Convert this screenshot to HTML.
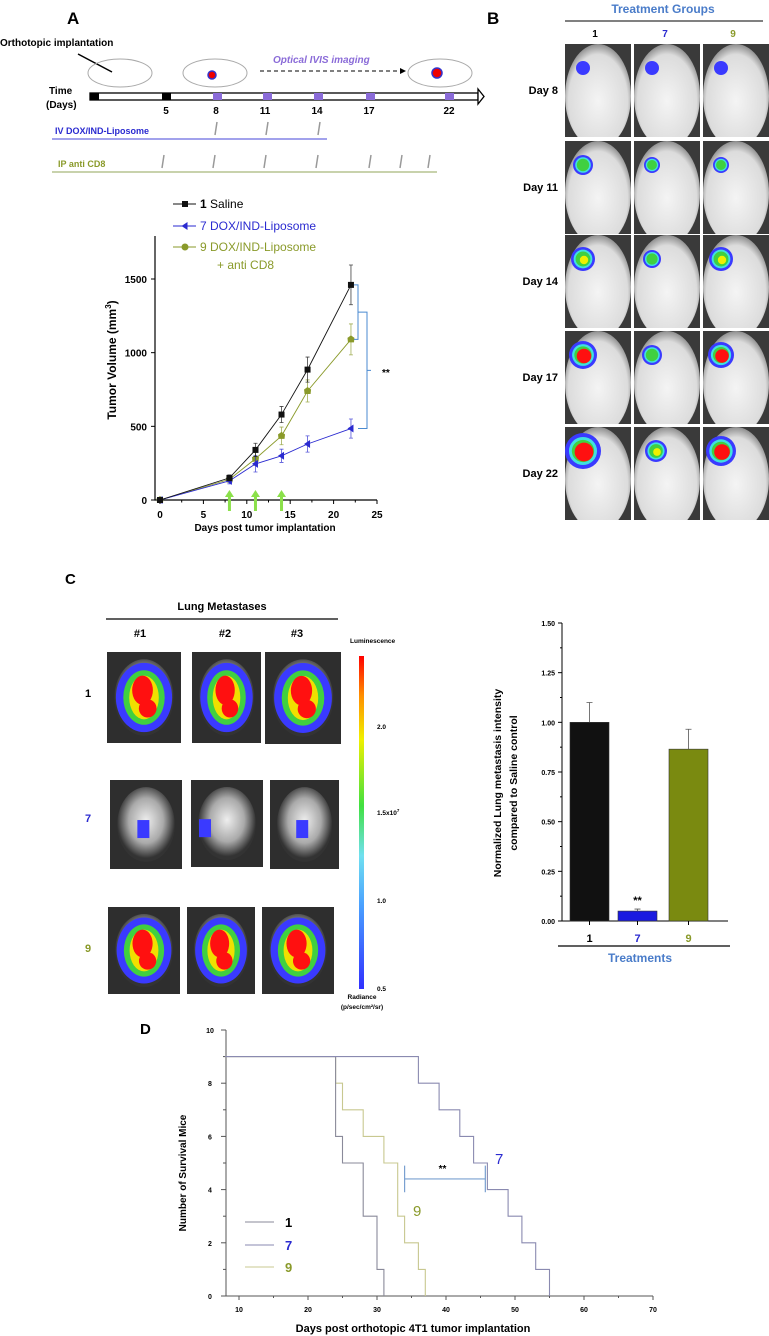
<!DOCTYPE html>
<html><head><meta charset="utf-8"><style>
body{margin:0;background:#fff}
svg{display:block;font-family:"Liberation Sans",sans-serif}
</style></head><body>
<svg id="s" width="769" height="1336" viewBox="0 0 769 1336" xmlns="http://www.w3.org/2000/svg">
<defs>
<radialGradient id="mouse" cx="50%" cy="55%" r="60%"><stop offset="0" stop-color="#f4f4f4"/><stop offset="0.75" stop-color="#dcdcdc"/><stop offset="1" stop-color="#666"/></radialGradient>
<radialGradient id="lunghaze" cx="50%" cy="45%" r="50%"><stop offset="0" stop-color="#eee"/><stop offset="0.6" stop-color="#aaa"/><stop offset="1" stop-color="#333"/></radialGradient>
<linearGradient id="cbar" x1="0" y1="1" x2="0" y2="0"><stop offset="0" stop-color="#3030ff"/><stop offset="0.25" stop-color="#4aa0ff"/><stop offset="0.4" stop-color="#70e0f0"/><stop offset="0.55" stop-color="#40e040"/><stop offset="0.75" stop-color="#f0f000"/><stop offset="0.88" stop-color="#ff9000"/><stop offset="1" stop-color="#ff0000"/></linearGradient>
</defs>

<text x="67" y="24" font-size="17" font-weight="bold">A</text>
<text x="0" y="46" font-size="10" font-weight="bold">Orthotopic implantation</text>
<line x1="78" y1="54" x2="112" y2="72" stroke="#000" stroke-width="1.5"/>
<g fill="none" stroke="#aaa" stroke-width="1">
<ellipse cx="120" cy="73" rx="32" ry="14"/><ellipse cx="215" cy="73" rx="32" ry="14"/><ellipse cx="440" cy="73" rx="32" ry="14"/>
</g>
<circle cx="212" cy="75" r="4" fill="#e00" stroke="#33c" stroke-width="1.5"/>
<circle cx="437" cy="73" r="5" fill="#e00" stroke="#33c" stroke-width="1.5"/>
<text x="273" y="63" font-size="10" font-weight="bold" font-style="italic" fill="#8a6bd8">Optical IVIS imaging</text>
<line x1="260" y1="71" x2="400" y2="71" stroke="#000" stroke-dasharray="4,3"/>
<polygon points="400,68 406,71 400,74" fill="#000"/>
<text x="49" y="94" font-size="10" font-weight="bold">Time</text>
<text x="46" y="108" font-size="10" font-weight="bold">(Days)</text>
<rect x="90" y="93" width="388" height="7" fill="#fff" stroke="#000" stroke-width="1.3"/>
<polygon points="478,89 484,96.5 478,104" fill="#fff" stroke="#000" stroke-width="1.3"/>
<g id="tl"></g>
<text x="55" y="134" font-size="9" font-weight="bold" fill="#2a2ad0">IV DOX/IND-Liposome</text>
<line x1="52" y1="139" x2="327" y2="139" stroke="#6a6ae0" stroke-width="1.3"/>
<text x="58" y="167" font-size="9" font-weight="bold" fill="#8a9a2a">IP anti CD8</text>
<line x1="52" y1="172" x2="437" y2="172" stroke="#a8b87a" stroke-width="1.3"/>
<g id="syr"></g>

<g id="chartA"></g>

<text x="487" y="24" font-size="17" font-weight="bold">B</text>
<text x="663" y="13" font-size="12" font-weight="bold" fill="#4a7cc9" text-anchor="middle">Treatment Groups</text>
<line x1="565" y1="21" x2="763" y2="21" stroke="#000"/>
<text x="595" y="37" font-size="10" font-weight="bold" text-anchor="middle">1</text>
<text x="665" y="37" font-size="10" font-weight="bold" fill="#2a2ad0" text-anchor="middle">7</text>
<text x="733" y="37" font-size="10" font-weight="bold" fill="#8a9a2a" text-anchor="middle">9</text>
<g id="mice"></g>

<text x="65" y="584" font-size="15" font-weight="bold">C</text>
<text x="222" y="610" font-size="11" font-weight="bold" text-anchor="middle">Lung Metastases</text>
<line x1="106" y1="619" x2="338" y2="619" stroke="#000" stroke-width="1.2"/>
<text x="140" y="637" font-size="11" font-weight="bold" text-anchor="middle">#1</text>
<text x="225" y="637" font-size="11" font-weight="bold" text-anchor="middle">#2</text>
<text x="297" y="637" font-size="11" font-weight="bold" text-anchor="middle">#3</text>
<text x="88" y="697" font-size="11" font-weight="bold" text-anchor="middle">1</text>
<text x="88" y="822" font-size="11" font-weight="bold" fill="#2a2ad0" text-anchor="middle">7</text>
<text x="88" y="952" font-size="11" font-weight="bold" fill="#8a9a2a" text-anchor="middle">9</text>
<g id="lungs"></g>
<text x="350" y="643" font-size="6.5" font-weight="bold">Luminescence</text>
<rect x="359" y="656" width="5" height="333" fill="url(#cbar)"/>
<g font-size="6.5" font-weight="bold">
<text x="377" y="729">2.0</text><text x="377" y="815">1.5x10<tspan font-size="4.5" dy="-3">7</tspan></text><text x="377" y="903">1.0</text><text x="377" y="991">0.5</text>
<text x="362" y="999" text-anchor="middle">Radiance</text><text x="362" y="1009" text-anchor="middle">(p/sec/cm²/sr)</text>
</g>
<g id="chartC"></g>

<text x="140" y="1034" font-size="15" font-weight="bold">D</text>
<g id="chartD"></g>
</svg>
<script>
const tumorDays = [0, 8, 11, 14, 17, 22];
const salineVals = [0, 150, 340, 580, 885, 1460];
const salineErr = [0, 20, 45, 55, 85, 135];
const doxVals = [0, 130, 245, 300, 380, 485];
const doxErr = [0, 20, 55, 45, 55, 65];
const cd8Vals = [0, 140, 280, 435, 740, 1090];
const cd8Err = [0, 20, 45, 60, 75, 105];
const tumorYTicks = [0, 500, 1000, 1500];
const tumorXTicks = [0, 5, 10, 15, 20, 25];
const arrowDays = [8, 11, 14];

const barCats = ['1', '7', '9'];
const barVals = [1.0, 0.05, 0.865];
const barErr = [0.1, 0.01, 0.1];
const barTicks = [0, 0.25, 0.5, 0.75, 1.0, 1.25, 1.5];

const surv1 = [[8, 9], [24, 6], [25, 5], [28, 3], [30, 1], [31, 0]];
const surv7 = [[8, 9], [36, 8], [39, 7], [42, 6], [44, 5], [46, 4], [49, 3], [51, 2], [53, 1], [55, 0]];
const surv9 = [[8, 9], [24, 8], [25, 7], [28, 6], [31, 5], [33, 3], [34, 2], [36, 1], [37, 0]];
const survXTicks = [10, 20, 30, 40, 50, 60, 70];
const survYTicks = [0, 2, 4, 6, 8, 10];

const NS = 'http://www.w3.org/2000/svg';
function mk(tag, attrs, parent, txt) {
  const e = document.createElementNS(NS, tag);
  for (const k in attrs) e.setAttribute(k, attrs[k]);
  if (txt !== undefined) e.textContent = txt;
  parent.appendChild(e);
  return e;
}

const tl = document.getElementById('tl');
[[90, '#000'], [162, '#000'], [213, '#8a6bd8'], [263, '#8a6bd8'], [314, '#8a6bd8'], [366, '#8a6bd8'], [445, '#8a6bd8']].forEach(p => {
  const r = mk('rect', {x: p[0], y: 93, width: 9, height: 7, fill: p[1]}, tl);
  
  
});
[[166, '5'], [216, '8'], [265, '11'], [317, '14'], [369, '17'], [449, '22']].forEach(p => {
  const t = mk('text', {x: p[0], y: 114, 'font-size': 10, 'font-weight': 'bold', 'text-anchor': 'middle'}, tl, p[1]);
  
  
});
const syr = document.getElementById('syr');
[[215, 135], [266, 135], [318, 135], [162, 168], [213, 168], [264, 168], [316, 168], [369, 168], [400, 168], [428, 168]].forEach(p => {
  const l = mk('line', {x1: p[0], y1: p[1], x2: p[0] + 2, y2: p[1] - 13, stroke: '#999', 'stroke-width': 1.5}, syr);
  
  
});

const gA = document.getElementById('chartA');
const xA = d => 160 + d * 8.68;
const yA = v => 500 - v * 221 / 1500;
const axA = mk('path', {d: `M155,236 V500 H377`, fill: 'none', stroke: '#000', 'stroke-width': 1.2}, gA);


tumorYTicks.forEach(v => {
  mk('line', {x1: 151, x2: 155, y1: yA(v), y2: yA(v), stroke: '#000'}, gA);
  const t = mk('text', {x: 147, y: yA(v) + 4, 'font-size': 10, 'font-weight': 'bold', 'text-anchor': 'end'}, gA, v);
  
  
});
for (let d = 0; d <= 25; d += 2.5) mk('line', {x1: xA(d), x2: xA(d), y1: 500, y2: d % 5 === 0 ? 504 : 502.5, stroke: '#000'}, gA);
tumorXTicks.forEach(d => {
  const t = mk('text', {x: xA(d), y: 518, 'font-size': 10, 'font-weight': 'bold', 'text-anchor': 'middle'}, gA, d);
  
  
});
const xtA = mk('text', {x: 265, y: 531, 'font-size': 10, 'font-weight': 'bold', 'text-anchor': 'middle'}, gA, 'Days post tumor implantation');


const ytA = mk('text', {x: 0, y: 0, 'font-size': 12, 'font-weight': 'bold', 'text-anchor': 'middle', transform: 'translate(116,360) rotate(-90)'}, gA);


ytA.innerHTML = 'Tumor Volume (mm<tspan font-size="8" dy="-5">3</tspan><tspan dy="5">)</tspan>';
arrowDays.forEach(d => {
  const a = mk('path', {d: `M${xA(d) - 1.5},511 V497 h-3 l4.5,-7 l4.5,7 h-3 V511 Z`, fill: '#8be04a'}, gA);
  
  
});
function seriesA(vals, errs, color, marker, name) {
  const g = mk('g', {}, gA);
  
  
  mk('polyline', {points: tumorDays.map((d, i) => xA(d) + ',' + yA(vals[i])).join(' '), fill: 'none', stroke: color, 'stroke-width': 0.9}, g);
  tumorDays.forEach((d, i) => {
    const x = xA(d), y = yA(vals[i]);
    if (errs[i]) {
      mk('path', {d: `M${x},${yA(vals[i] - errs[i])} V${yA(vals[i] + errs[i])} M${x - 2},${yA(vals[i] - errs[i])} h4 M${x - 2},${yA(vals[i] + errs[i])} h4`, stroke: color, 'stroke-width': 0.8, fill: 'none', opacity: 0.8}, g);
    }
    let m;
    if (marker === 'sq') m = mk('rect', {x: x - 3, y: y - 3, width: 6, height: 6, fill: color}, g);
    else if (marker === 'tri') m = mk('polygon', {points: `${x - 3.5},${y} ${x + 2.5},${y - 4} ${x + 2.5},${y + 4}`, fill: color}, g);
    else m = mk('polygon', {points: `${x},${y - 4} ${x + 3.5},${y - 1.5} ${x + 3},${y + 3} ${x - 3},${y + 3} ${x - 3.5},${y - 1.5}`, fill: color}, g);
    
    
  });
}
seriesA(cd8Vals, cd8Err, '#8a9a2a', 'pent', 'series-9');
seriesA(doxVals, doxErr, '#2a2ad0', 'tri', 'series-7');
seriesA(salineVals, salineErr, '#111', 'sq', 'series-1');
const legA = mk('g', {'font-size': 12}, gA);


[[204, '#111', 'sq'], [226, '#2a2ad0', 'tri'], [247, '#8a9a2a', 'pent']].forEach(p => {
  mk('line', {x1: 173, x2: 196, y1: p[0], y2: p[0], stroke: p[1]}, legA);
  const x = 185, y = p[0];
  if (p[2] === 'sq') mk('rect', {x: x - 3, y: y - 3, width: 6, height: 6, fill: p[1]}, legA);
  else if (p[2] === 'tri') mk('polygon', {points: `${x - 3.5},${y} ${x + 2.5},${y - 4} ${x + 2.5},${y + 4}`, fill: p[1]}, legA);
  else mk('circle', {cx: x, cy: y, r: 3.5, fill: p[1]}, legA);
});
const l1 = mk('text', {x: 200, y: 208}, legA); l1.innerHTML = '<tspan font-weight="bold">1</tspan> Saline';
 
const l7 = mk('text', {x: 200, y: 230, fill: '#2a2ad0'}, legA, '7 DOX/IND-Liposome');
 
const l9 = mk('text', {x: 200, y: 251, fill: '#8a9a2a'}, legA, '9 DOX/IND-Liposome');
 
const l9b = mk('text', {x: 217, y: 269, fill: '#8a9a2a'}, legA, '+ anti CD8');
 
const br = mk('path', {d: `M354,${yA(1460)} h4 V${yA(1090)} h-4 M358,${(yA(1460) + yA(1090)) / 2} h9 V${yA(485)} h-9 M367,${(yA(1275) + yA(485)) / 2} h4`, fill: 'none', stroke: '#4a8ad0', 'stroke-width': 1}, gA);
 
const st = mk('text', {x: 382, y: 376, 'font-size': 10, 'font-weight': 'bold'}, gA, '**');
 

const mice = document.getElementById('mice');
const colX = [565, 634, 703];
const rowY = [44, 141, 235, 331, 427];
const dayLabels = ['Day 8', 'Day 11', 'Day 14', 'Day 17', 'Day 22'];
const blobR = [[7, 7, 7], [10, 8, 8], [12, 9, 12], [14, 10, 13], [18, 11, 15]];
const blobL = [[1, 1, 1], [2, 2, 2], [3, 2, 3], [4, 2, 4], [4, 3, 4]];
const lvlCol = ['#3a3aff', '#40e0e0', '#40d040', '#f0f000', '#ff1010'];
rowY.forEach((y, r) => {
  const t = mk('text', {x: 558, y: y + 50, 'font-size': 11, 'font-weight': 'bold', 'text-anchor': 'end'}, mice, dayLabels[r]);
  
  
  colX.forEach((x, c) => {
    const g = mk('svg', {x: x, y: y, width: 66, height: 93, overflow: 'hidden'}, mice);
    
    
    mk('rect', {x: 0, y: 0, width: 66, height: 93, fill: '#3a3a3a'}, g);
    mk('ellipse', {cx: 33, cy: 52, rx: 33, ry: 52, fill: 'url(#mouse)'}, g);
    const bx = 18 + (r === 4 && c === 1 ? 4 : 0), by = 24;
    const R = blobR[r][c], L = blobL[r][c];
    mk('circle', {cx: bx, cy: by, r: R, fill: lvlCol[0]}, g);
    if (L >= 2) { mk('circle', {cx: bx, cy: by, r: R * 0.78, fill: lvlCol[1]}, g); mk('circle', {cx: bx, cy: by, r: R * 0.62, fill: lvlCol[2]}, g); }
    if (L >= 3) mk('circle', {cx: bx + 1, cy: by + 1, r: R * 0.35, fill: lvlCol[3]}, g);
    if (L >= 4) mk('circle', {cx: bx + 1, cy: by + 1, r: R * 0.52, fill: lvlCol[4]}, g);
  });
});

const lungs = document.getElementById('lungs');
const lungBoxes = [
  [[107, 652, 74, 91], [192, 652, 69, 91], [265, 652, 76, 92]],
  [[110, 780, 72, 89], [191, 780, 72, 87], [270, 780, 69, 89]],
  [[108, 907, 72, 87], [187, 907, 68, 87], [262, 907, 72, 87]]];
lungBoxes.forEach((row, r) => row.forEach((b, c) => {
  const g = mk('g', {}, lungs);
  
  
  const [x, y, w, h] = b;
  mk('rect', {x: x, y: y, width: w, height: h, fill: '#2e2e2e'}, g);
  mk('ellipse', {cx: x + w / 2, cy: y + h / 2, rx: w * 0.4, ry: h * 0.42, fill: 'url(#lunghaze)'}, g);
  if (r === 1) {
    mk('rect', {x: x + (c === 1 ? 8 : w * 0.38), y: y + h * 0.45, width: 12, height: 18, fill: '#3a3aff'}, g);
  } else {
    mk('ellipse', {cx: x + w / 2, cy: y + h / 2, rx: w * 0.38, ry: h * 0.38, fill: '#3a3aff'}, g);
    mk('ellipse', {cx: x + w / 2, cy: y + h / 2, rx: w * 0.28, ry: h * 0.3, fill: '#40d040'}, g);
    mk('ellipse', {cx: x + w / 2, cy: y + h / 2, rx: w * 0.2, ry: h * 0.24, fill: '#f0e000'}, g);
    mk('ellipse', {cx: x + w * 0.48, cy: y + h * 0.42, rx: w * 0.14, ry: h * 0.16, fill: '#ff1010'}, g);
    mk('ellipse', {cx: x + w * 0.55, cy: y + h * 0.62, rx: w * 0.12, ry: h * 0.1, fill: '#ff1010'}, g);
  }
}));

const gC = document.getElementById('chartC');
const yC = v => 921 - v * 298 / 1.5;
const barX = [570, 618, 669];
const barW = 39;
const barCol = ['#111', '#1a1ae0', '#7a8a10'];
const axC = mk('path', {d: `M562,623 V921 H728`, fill: 'none', stroke: '#000'}, gC);
 
barTicks.forEach(v => {
  mk('line', {x1: 558, x2: 562, y1: yC(v), y2: yC(v), stroke: '#000'}, gC);
  if (v < 1.5) mk('line', {x1: 560, x2: 562, y1: yC(v + 0.125), y2: yC(v + 0.125), stroke: '#000'}, gC);
  const t = mk('text', {x: 555, y: yC(v) + 3, 'font-size': 7, 'font-weight': 'bold', 'text-anchor': 'end'}, gC, v.toFixed(2));
   
});
barCats.forEach((c, i) => {
  const x = barX[i];
  const b = mk('rect', {x: x, y: yC(barVals[i]), width: barW, height: yC(0) - yC(barVals[i]), fill: barCol[i], stroke: '#333', 'stroke-width': 0.6}, gC);
   
  const cx = x + barW / 2;
  mk('path', {d: `M${cx},${yC(barVals[i])} V${yC(barVals[i] + barErr[i])} M${cx - 3},${yC(barVals[i] + barErr[i])} h6`, stroke: '#555', fill: 'none', 'stroke-width': 0.8}, gC);
  mk('line', {x1: cx, x2: cx, y1: 921, y2: 925, stroke: '#000'}, gC);
  const t = mk('text', {x: cx, y: 942, 'font-size': 11, 'font-weight': 'bold', 'text-anchor': 'middle', fill: ['#000', '#2a2ad0', '#8a9a2a'][i]}, gC, c);
   
});
const sC = mk('text', {x: barX[1] + barW / 2, y: yC(barVals[1]) - 7, 'font-size': 11, 'font-weight': 'bold', 'text-anchor': 'middle'}, gC, '**');
 
mk('line', {x1: 558, x2: 730, y1: 946, y2: 946, stroke: '#000', 'stroke-width': 1.2}, gC);
const tC = mk('text', {x: 640, y: 962, 'font-size': 12, 'font-weight': 'bold', fill: '#4a7cc9', 'text-anchor': 'middle'}, gC, 'Treatments');
 
const yt1 = mk('text', {x: 0, y: 0, 'font-size': 10.5, 'font-weight': 'bold', 'text-anchor': 'middle', transform: 'translate(501,783) rotate(-90)'}, gC, 'Normalized Lung metastasis intensity');
 
const yt2 = mk('text', {x: 0, y: 0, 'font-size': 10.5, 'font-weight': 'bold', 'text-anchor': 'middle', transform: 'translate(517,783) rotate(-90)'}, gC, 'compared to Saline control');
 

const gD = document.getElementById('chartD');
const xD = d => 239 + (d - 10) * 6.9;
const yD = n => 1296 - n * 26.6;
const axD = mk('path', {d: `M226,1030 V1296 H653`, fill: 'none', stroke: '#555'}, gD);
 
survYTicks.forEach(n => {
  mk('line', {x1: 221, x2: 226, y1: yD(n), y2: yD(n), stroke: '#555'}, gD);
  if (n < 10) mk('line', {x1: 223, x2: 226, y1: yD(n + 1), y2: yD(n + 1), stroke: '#555'}, gD);
  const t = mk('text', {x: 210, y: yD(n) + 3, 'font-size': 7, 'font-weight': 'bold', 'text-anchor': 'middle'}, gD, n);
   
});
survXTicks.forEach(d => {
  mk('line', {x1: xD(d), x2: xD(d), y1: 1296, y2: 1300, stroke: '#555'}, gD);
  if (d < 70) mk('line', {x1: xD(d + 5), x2: xD(d + 5), y1: 1296, y2: 1298, stroke: '#555'}, gD);
  const t = mk('text', {x: xD(d), y: 1312, 'font-size': 7, 'font-weight': 'bold', 'text-anchor': 'middle'}, gD, d);
   
});
const xtD = mk('text', {x: 413, y: 1332, 'font-size': 11, 'font-weight': 'bold', 'text-anchor': 'middle'}, gD, 'Days post orthotopic 4T1 tumor implantation');
 
const ytD = mk('text', {x: 0, y: 0, 'font-size': 10, 'font-weight': 'bold', 'text-anchor': 'middle', transform: 'translate(186,1173) rotate(-90)'}, gD, 'Number of Survival Mice');
 
function stepPath(s) {
  let d = `M${xD(s[0][0])},${yD(s[0][1])}`;
  for (let i = 1; i < s.length; i++) d += ` H${xD(s[i][0])} V${yD(s[i][1])}`;
  return d;
}
[[surv9, '#c8c890', 'survival-9'], [surv1, '#8a8a9a', 'survival-1'], [surv7, '#8a8ab0', 'survival-7']].forEach(p => {
  const l = mk('path', {d: stepPath(p[0]), fill: 'none', stroke: p[1], 'stroke-width': 1.1}, gD);
   
});
const brD = mk('path', {d: `M${xD(34)},${yD(4.4)} H${xD(45.7)} M${xD(34)},${yD(4.9)} V${yD(3.9)} M${xD(45.7)},${yD(4.9)} V${yD(3.9)}`, stroke: '#7aa0d0', fill: 'none', 'stroke-width': 1.2}, gD);
 
const sD = mk('text', {x: xD(39.5), y: 1172, 'font-size': 10, 'font-weight': 'bold', 'text-anchor': 'middle'}, gD, '**');
 
const a7 = mk('text', {x: 495, y: 1164, 'font-size': 15, fill: '#2a2ad0'}, gD, '7');
 
const a9 = mk('text', {x: 413, y: 1216, 'font-size': 15, fill: '#8a9a2a'}, gD, '9');
 
[[1222, '#8a8a9a', '1', '#000'], [1245, '#8a8ab0', '7', '#2a2ad0'], [1267, '#c8c890', '9', '#8a9a2a']].forEach(p => {
  mk('line', {x1: 245, x2: 274, y1: p[0], y2: p[0], stroke: p[1], 'stroke-width': 1.1}, gD);
  const t = mk('text', {x: 285, y: p[0] + 5, 'font-size': 13, 'font-weight': 'bold', fill: p[3]}, gD, p[2]);
   
});
</script>
</body></html>
